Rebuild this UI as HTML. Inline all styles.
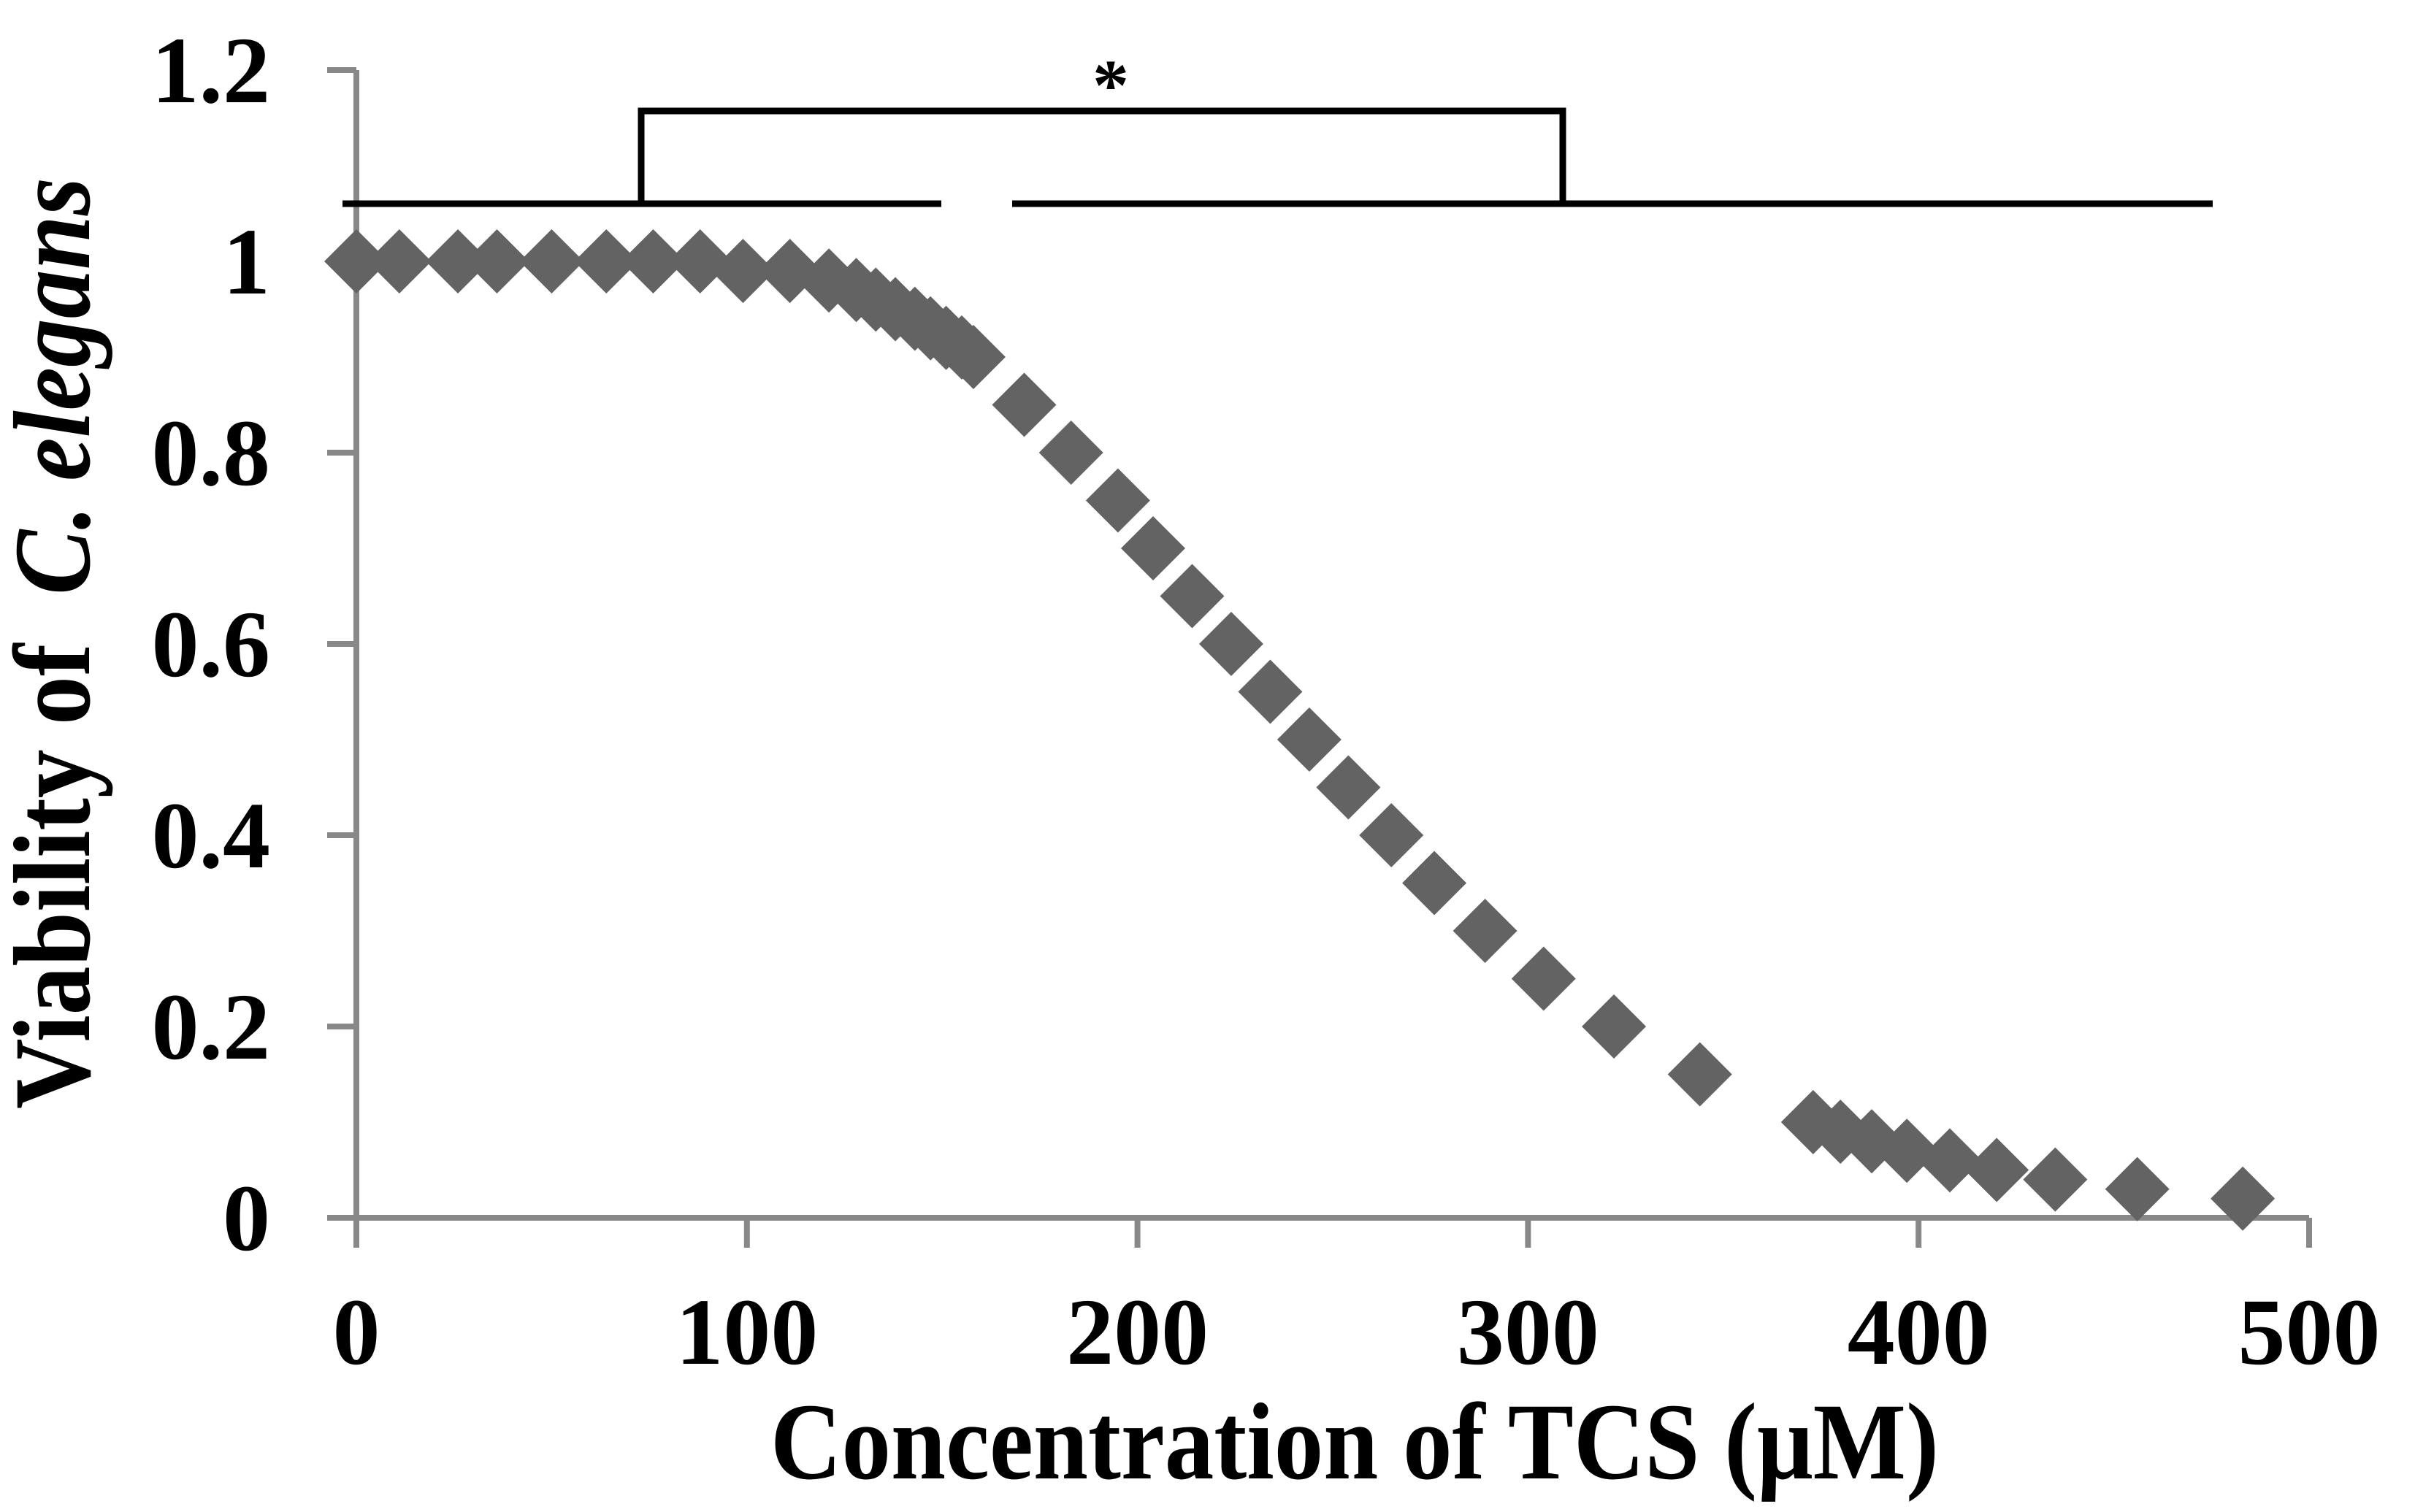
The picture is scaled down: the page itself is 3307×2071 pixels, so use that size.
<!DOCTYPE html>
<html><head><meta charset="utf-8"><style>
html,body{margin:0;padding:0;background:#fff;}
svg{display:block;}
text{font-family:"Liberation Serif",serif;font-weight:bold;fill:#000;}
</style></head>
<body>
<svg id="chart" width="3307" height="2071" viewBox="0 0 3307 2071" xmlns="http://www.w3.org/2000/svg">
<g id="axes"></g>
<g id="marks"></g>
<g id="annot">
  <line x1="469" y1="279" x2="1289" y2="279" stroke="#000" stroke-width="9"/>
  <line x1="1386" y1="279" x2="3030" y2="279" stroke="#000" stroke-width="9"/>
  <polyline points="878,279 878,152 2140,152 2140,279" fill="none" stroke="#000" stroke-width="9"/>
  <text x="1521" y="150" font-size="100" text-anchor="middle">*</text>
</g>
<text x="1855" y="2025" font-size="150" text-anchor="middle" textLength="1600" lengthAdjust="spacingAndGlyphs">Concentration of TCS (μM)</text>
<text transform="translate(122,881) rotate(-90)" font-size="150" text-anchor="middle" textLength="1276" lengthAdjust="spacingAndGlyphs" xml:space="preserve">Viability of  <tspan font-style="italic">C. elegans</tspan></text>
</svg>
<script>
const concentrations = [0,11,26,36,50,64,76,88,99,111,121,128,133,138,143,147,151,155,158,171,183,195,204,214,224,234,244,254,265,276,289,304,322,344,373,380,388,397,408,420,435,456,483];
const viability = [1,1,1,1,1,1,1,1,0.99,0.99,0.98,0.97,0.96,0.95,0.94,0.93,0.92,0.91,0.90,0.85,0.80,0.75,0.70,0.65,0.60,0.55,0.50,0.45,0.40,0.35,0.30,0.25,0.20,0.15,0.10,0.09,0.08,0.07,0.06,0.05,0.04,0.03,0.02];
const xTicks = [0,100,200,300,400,500];
const yTicks = [0,0.2,0.4,0.6,0.8,1,1.2];
const yTickLabels = ["0","0.2","0.4","0.6","0.8","1","1.2"];

const X0=488, X1=3162, Y0=1668, Y1=96;
function xs(v){return X0+(v-0)/(500-0)*(X1-X0);}
function ys(v){return Y0-(v-0)/(1.2-0)*(Y0-Y1);}
const NS="http://www.w3.org/2000/svg";
function mk(tag,attrs){const e=document.createElementNS(NS,tag);for(const k in attrs)e.setAttribute(k,attrs[k]);return e;}
const axes=document.getElementById('axes');
const gray="#888";
let yl=mk('line',{x1:X0,y1:Y1,x2:X0,y2:Y0+41,stroke:gray,'stroke-width':8});


axes.appendChild(yl);
let xl=mk('line',{x1:X0-40,y1:Y0,x2:X1,y2:Y0,stroke:gray,'stroke-width':8});


axes.appendChild(xl);
yTicks.forEach((t,i)=>{
  const y=ys(t);
  const tk=mk('line',{x1:X0-40,y1:y,x2:X0,y2:y,stroke:gray,'stroke-width':8});
  
  
  axes.appendChild(tk);
  const tx=mk('text',{x:370,y:y+44,'font-size':130,'text-anchor':'end'});
  
  
  tx.textContent=yTickLabels[i];
  axes.appendChild(tx);
});
xTicks.forEach(t=>{
  const x=xs(t);
  const tk=mk('line',{x1:x,y1:Y0,x2:x,y2:Y0+41,stroke:gray,'stroke-width':8});
  
  
  axes.appendChild(tk);
  const tx=mk('text',{x:x,y:1868,'font-size':130,'text-anchor':'middle'});
  
  
  tx.textContent=String(t);
  axes.appendChild(tx);
});
const marks=document.getElementById('marks');
const r=44;
concentrations.forEach((c,i)=>{
  const x=xs(c), y=ys(viability[i]);
  const p=mk('polygon',{points:`${x},${y-r} ${x+r},${y} ${x},${y+r} ${x-r},${y}`,fill:'#636363'});
  
  
  marks.appendChild(p);
});
</script>
</body></html>
